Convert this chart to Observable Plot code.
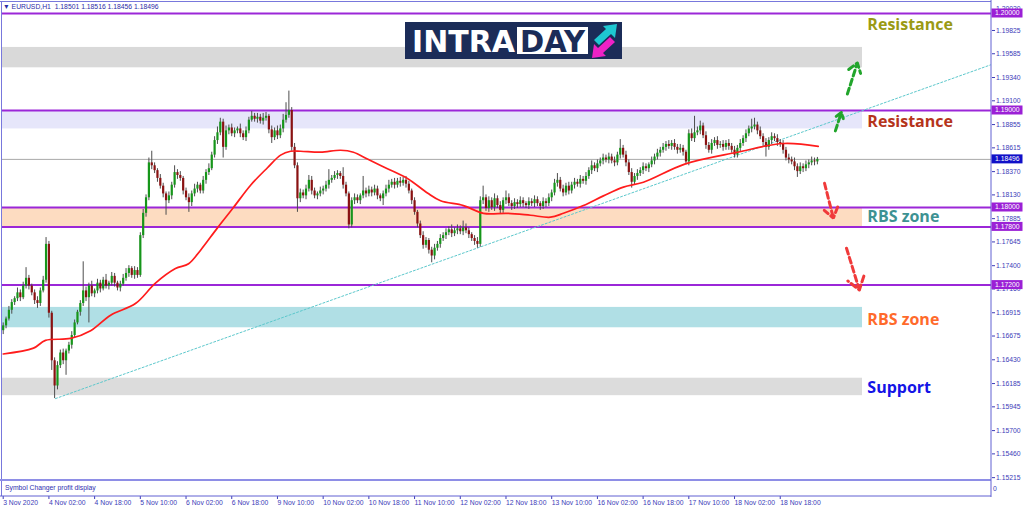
<!DOCTYPE html>
<html><head><meta charset="utf-8">
<script src="https://cdn.jsdelivr.net/npm/d3@7"></script>
<script src="https://cdn.jsdelivr.net/npm/@observablehq/plot@0.6"></script>
<style>
html,body{margin:0;padding:0;background:#fff;}
#wrap{position:relative;width:1024px;height:511px;overflow:hidden;background:#fff;}
#hdr{position:absolute;left:3px;top:3px;font:6.8px "Liberation Sans",sans-serif;color:#2b2ba6;white-space:pre;line-height:8px;}
#logo{position:absolute;left:405px;top:22px;}
</style></head><body>
<div id="wrap"><div id="chart"></div><div id="hdr"></div>
<svg id="logo" width="218" height="38" viewBox="405 22 218 38">
<rect x="405" y="22" width="217" height="37" fill="#1b2c58"/>
<text x="412" y="52" font-family="DejaVu Sans" font-weight="bold" font-size="31" fill="#fff" textLength="103" lengthAdjust="spacingAndGlyphs">INTRA</text>
<rect x="517" y="27" width="71" height="27" fill="#fff"/>
<text x="520" y="52" font-family="DejaVu Sans" font-weight="bold" font-size="31" fill="#1b2c58" textLength="65" lengthAdjust="spacingAndGlyphs">DAY</text>
<polygon fill="#1ec8d2" points="617,24 615,38 611,34 599,45 594,40 606,29 603,26"/>
<polygon fill="#ee22c6" points="592,58 594,44 598,48 610,37 615,42 603,53 606,56"/>
</svg>
</div>
<script>
// ---------------- data ----------------
const symbol = "EURUSD,H1";
const lastOHLC = [1.18501, 1.18516, 1.18456, 1.18496];
const lastPrice = 1.18496;
const pip = 0.0001;
const firstOpen = 1.1673;
const closes = [
1.1678,1.1685,1.1694,1.1702,1.1706,1.1712,1.1707,1.1719,1.1727,1.1719,
1.1712,1.1704,1.1701,1.1714,1.1725,1.1762,1.1691,1.1642,1.1616,1.1637,
1.1650,1.1642,1.1652,1.1658,1.1668,1.1681,1.1692,1.1701,1.1714,1.1707,
1.1719,1.1711,1.1714,1.1722,1.1716,1.1725,1.1719,1.1722,1.1729,1.1722,
1.1717,1.1721,1.1727,1.1732,1.1737,1.1730,1.1735,1.1730,1.1771,1.1794,
1.1810,1.1846,1.1843,1.1838,1.1830,1.1822,1.1814,1.1807,1.1812,1.1823,
1.1836,1.1833,1.1830,1.1817,1.1810,1.1805,1.1814,1.1819,1.1823,1.1817,
1.1828,1.1836,1.1840,1.1854,1.1869,1.1877,1.1888,1.1862,1.1879,1.1882,
1.1876,1.1879,1.1881,1.1876,1.1872,1.1879,1.1890,1.1894,1.1891,1.1893,
1.1889,1.1892,1.1894,1.1880,1.1872,1.1879,1.1874,1.1881,1.1890,1.1895,
1.1900,1.1862,1.1843,1.1809,1.1815,1.1812,1.1819,1.1828,1.1817,1.1812,
1.1814,1.1817,1.1819,1.1823,1.1828,1.1830,1.1833,1.1835,1.1832,1.1823,
1.1814,1.1782,1.1807,1.1810,1.1807,1.1812,1.1817,1.1814,1.1818,1.1815,
1.1819,1.1812,1.1809,1.1814,1.1819,1.1823,1.1826,1.1823,1.1827,1.1825,
1.1828,1.1824,1.1817,1.1807,1.1795,1.1783,1.1771,1.1761,1.1766,1.1756,
1.1750,1.1758,1.1762,1.1768,1.1771,1.1774,1.1777,1.1773,1.1776,1.1778,
1.1775,1.1779,1.1776,1.1772,1.1768,1.1765,1.1762,1.1807,1.1810,1.1799,
1.1807,1.1800,1.1809,1.1802,1.1797,1.1807,1.1810,1.1804,1.1801,1.1805,
1.1803,1.1807,1.1804,1.1802,1.1806,1.1804,1.1808,1.1804,1.1801,1.1806,
1.1804,1.1810,1.1815,1.1825,1.1828,1.1819,1.1815,1.1822,1.1817,1.1823,
1.1826,1.1824,1.1829,1.1827,1.1832,1.1838,1.1843,1.1840,1.1845,1.1848,
1.1851,1.1849,1.1852,1.1848,1.1846,1.1854,1.1861,1.1854,1.1846,1.1836,
1.1826,1.1832,1.1835,1.1838,1.1842,1.1840,1.1844,1.1848,1.1852,1.1856,
1.1859,1.1862,1.1865,1.1863,1.1866,1.1862,1.1859,1.1861,1.1857,1.1847,
1.1876,1.1871,1.1877,1.1879,1.1884,1.1874,1.1864,1.1859,1.1866,1.1869,
1.1864,1.1865,1.1862,1.1866,1.1863,1.1859,1.1854,1.1861,1.1866,1.1871,
1.1876,1.1881,1.1883,1.1885,1.1879,1.1873,1.1867,1.1862,1.1869,1.1873,
1.1871,1.1867,1.1865,1.1859,1.1851,1.1849,1.1847,1.1842,1.1837,1.1842,
1.1840,1.1844,1.1846,1.1848,1.1847,1.18496];
// upper / lower wicks beyond the body, in pips
const wickUp = [
3,2,4,3,2,5,3,4,11,3, 2,3,4,3,4,7,3,2,3,4, 3,4,2,3,4,3,2,3,30,4, 3,5,2,4,3,3,6,2,4,3,
2,3,4,5,3,2,4,3,3,4, 3,5,12,3,2,4,3,2,4,3, 7,3,4,2,3,4,3,5,3,2, 4,3,5,3,4,6,4,3,5,3,
4,3,2,5,3,4,3,5,3,4, 3,5,4,2,4,3,5,4,6,13, 20,3,4,3,4,3,4,5,4,3, 2,4,3,4,11,3,4,3,2,9,
3,2,3,4,3,2,15,3,4,3, 4,3,2,3,4,5,3,4,3,4, 3,4,3,2,3,2,3,4,3,2, 3,4,3,4,3,4,3,5,3,4,
3,7,4,3,2,3,4,4,12,3, 4,3,5,3,4,3,7,4,3,4, 3,4,3,2,4,3,4,3,2,4, 3,4,3,4,7,3,4,3,4,3,
4,3,4,3,4,3,5,3,4,3, 4,3,4,3,4,3,9,3,4,3, 4,3,4,3,4,3,2,4,3,4, 3,4,3,4,3,4,3,4,3,2,
4,5,17,4,5,3,4,3,4,3, 4,3,4,3,4,3,4,3,4,3, 4,3,8,7,3,4,3,4,3,4, 3,4,3,4,3,4,3,4,3,4,
3,4,3,4,3,2];
const wickDn = [
4,3,2,4,3,3,4,2,3,4, 3,4,5,3,2,3,5,10,13,4, 3,4,15,3,4,3,2,4,3,4, 26,3,4,3,4,2,3,4,3,4,
3,4,2,3,4,3,4,3,2,3, 4,3,4,3,4,3,4,15,3,4, 3,4,3,4,3,10,4,3,4,3, 3,4,3,2,3,4,3,11,3,4,
3,4,3,4,3,4,3,2,3,4, 3,4,3,4,6,3,4,3,4,3, 3,4,3,14,4,3,4,3,4,3, 4,3,4,3,4,3,2,4,3,4,
3,4,3,4,3,4,3,4,3,4, 3,4,3,7,3,4,3,4,3,4, 3,4,3,4,3,4,3,4,3,4, 7,4,3,4,3,4,3,4,3,4,
3,4,3,4,3,4,4,3,4,3, 4,3,4,3,4,3,4,3,4,3, 4,3,4,3,4,3,4,3,4,3, 4,3,4,3,4,3,4,3,4,3,
4,3,4,3,4,3,4,3,4,3, 4,3,4,3,4,3,4,3,4,3, 6,3,4,3,4,3,4,3,4,3, 4,3,4,3,4,3,4,3,4,3,
4,3,4,3,4,3,4,3,4,3, 4,3,4,3,4,3,3,3,4,3, 4,3,4,3,4,3,4,10,3,4, 3,4,3,4,3,4,3,4,6,3,
4,3,4,3,4,3];
// moving average
const maBars = [0,10.6,14.8,23.6,30.6,37.6,46.3,53.3,60.3,64.9,69.1,75,80.6,86.6,92.5,97.1,100.6,104.1,111.1,118.1,122.6,127.5,134.5,141.5,148.5,153.1,161.1,168.1,176.5,184.6,191.6,196.1,203.1,210.1,217.1,224.1,238.8,257,273.1,285.3];
const maValues = [1.1649,1.1655,1.1663,1.1665,1.1673,1.1689,1.1701,1.1722,1.1737,1.1742,1.1756,1.1779,1.1800,1.1823,1.1841,1.1854,1.1858,1.1858,1.1857,1.1859,1.1857,1.1850,1.1840,1.1830,1.1815,1.1807,1.1802,1.1794,1.1794,1.1792,1.1790,1.1794,1.1802,1.1812,1.1821,1.1826,1.1845,1.1857,1.1866,1.1863];
// horizontal levels and zones
const levels = [1.2000, 1.1900, 1.1800, 1.1780, 1.1720];
const zoneTop =    [1.1965, 1.1900, 1.1800, 1.1697, 1.1624];
const zoneBottom = [1.1944, 1.1881, 1.1780, 1.1676, 1.1606];
const zoneEndBar = 300.8;
// trend line
const trendBars = [18.3, 345.6];
const trendPrices = [1.1603, 1.1947];
// arrows
const arrowFromBar = [291.3, 295.5, 287.5, 295.2];
const arrowFromPrice = [1.1879, 1.1917, 1.1825, 1.1758];
const arrowToBar = [293.4, 299.0, 290.6, 299.7];
const arrowToPrice = [1.1898, 1.1949, 1.1789, 1.1715];
const arrowDir = ["up", "up", "down", "down"];
// zone labels
const labelText = ["Resistance", "Resistance", "RBS zone", "RBS zone", "Support"];
const labelPrice = [1.1988, 1.1888, 1.1790, 1.1684, 1.1614];
const labelBar = 302.5;
// axes
const xTickBars = [0,16,32,48,64,80,96,112,128,144,160,176,192,208,224,240,256,272];
const xTickLabels = ["3 Nov 2020","4 Nov 02:00","4 Nov 18:00","5 Nov 10:00","6 Nov 02:00","6 Nov 18:00","9 Nov 10:00","10 Nov 02:00","10 Nov 18:00","11 Nov 10:00","12 Nov 02:00","12 Nov 18:00","13 Nov 10:00","16 Nov 02:00","16 Nov 18:00","17 Nov 10:00","18 Nov 02:00","18 Nov 18:00"];
const yTickValues = [1.19825,1.19585,1.19340,1.19100,1.18855,1.18615,1.18370,1.18130,1.17885,1.17645,1.17400,1.17160,1.16915,1.16675,1.16430,1.16185,1.15945,1.15700,1.15460,1.15215];
const yTopLabel = "1.20020";

// ---------------- styles ----------------
const axisColor = "#3b3bb8";
const zoneColors = ["#d9d9d9", "#e6e6fa", "#fddcc1", "#b0dfe5", "#dcdcdc"];
const labelColors = ["#9a9a14", "#b5341b", "#3d9292", "#ff6a2b", "#1414e6"];
const arrowColors = {up: "#22a52c", down: "#f03a3a"};

// ---------------- build ----------------
document.getElementById("hdr").textContent = "\u25BC " + symbol + "  " + lastOHLC.map(v => v.toFixed(5)).join(" ");

const candles = closes.map((c, i) => {
  const o = i === 0 ? firstOpen : closes[i - 1];
  const top = Math.max(o, c), bot = Math.min(o, c);
  return {i, open: o, close: c, high: top + wickUp[i] * pip, low: bot - wickDn[i] * pip, up: c >= o};
});
const ma = maBars.map((b, k) => ({b, v: maValues[k]}));
const zones = zoneTop.map((t, k) => ({top: t, bottom: zoneBottom[k], fill: zoneColors[k]}));
const trend = trendBars.map((b, k) => ({b, v: trendPrices[k]}));
const arrows = arrowDir.map((d, k) => ({x1: arrowFromBar[k], y1: arrowFromPrice[k], x2: arrowToBar[k], y2: arrowToPrice[k], color: arrowColors[d]}));
const labels = labelText.map((t, k) => ({t, p: labelPrice[k], c: labelColors[k]}));
const xLabelOf = new Map(xTickBars.map((b, k) => [b, xTickLabels[k]]));
const xStart = -0.245;

const chart = Plot.plot({
  width: 1024, height: 511,
  marginLeft: 2, marginRight: 33, marginTop: 2, marginBottom: 15,
  x: {type: "linear", domain: [xStart, 345.6], range: [2, 990], label: null},
  y: {domain: [1.151959, 1.201134], range: [479, 2], label: null},
  color: {type: "identity"},
  style: {background: "#fff", fontFamily: "Liberation Sans, sans-serif", fontSize: "6.8px", color: axisColor, overflow: "visible"},
  marks: [
    Plot.rect(zones, {x1: () => xStart, x2: () => zoneEndBar, y1: "bottom", y2: "top", fill: "fill"}),
    Plot.ruleY([lastPrice], {stroke: "#a8a8a8", strokeWidth: 1}),
    Plot.ruleY(levels, {stroke: "#9b27d8", strokeWidth: 2}),
    Plot.line(trend, {x: "b", y: "v", stroke: "#5cc8cc", strokeWidth: 1, strokeDasharray: "2,2"}),
    Plot.ruleX(candles, {x: "i", y1: "low", y2: "high", stroke: "#4d4d4d", strokeWidth: 1}),
    Plot.ruleX(candles, {x: "i", y1: "open",
      y2: d => Math.abs(d.close - d.open) < 0.00004 ? d.open + (d.up ? 0.00004 : -0.00004) : d.close,
      stroke: d => d.up ? "#16961a" : "#8a1212", strokeWidth: 2.2}),
    Plot.line(ma, {x: "b", y: "v", stroke: "#ff1c1c", strokeWidth: 1.7, curve: "catmull-rom"}),
    Plot.arrow(arrows, {x1: "x1", y1: "y1", x2: "x2", y2: "y2", stroke: "color", strokeWidth: 3, strokeDasharray: "6,3.5", headLength: 9, headAngle: 70}),
    Plot.text(labels, {x: () => labelBar, y: "p", text: "t", fill: "c", textAnchor: "start", fontSize: 16, fontWeight: "bold", fontFamily: "Open Sans"}),
    Plot.axisY(yTickValues, {anchor: "right", tickSize: 3, tickPadding: 1.5, tickFormat: d => d.toFixed(5), fontSize: 6.8, color: axisColor}),
    Plot.text([yTopLabel], {frameAnchor: "top-right", dx: 4.5, dy: 4, textAnchor: "start", fill: axisColor, fontSize: 6.8}),
    Plot.axisX(xTickBars, {anchor: "bottom", tickSize: 3, tickPadding: 1, tickFormat: d => xLabelOf.get(d), textAnchor: "start", fontSize: 6.8, color: axisColor})
  ]
});
document.getElementById("chart").appendChild(chart);

// chart chrome: borders, sub-window, price boxes
const svg = d3.select(chart);
const ys = chart.scale("y");
const g = svg.append("g").attr("text-anchor", "start");
g.append("line").attr("x1", 0).attr("x2", 991).attr("y1", 1.5).attr("y2", 1.5).attr("stroke", "#7878dc");
g.append("line").attr("x1", 1.5).attr("x2", 1.5).attr("y1", 1).attr("y2", 496).attr("stroke", "#7878dc");
g.append("rect").attr("x", 2).attr("y", 479.5).attr("width", 989).attr("height", 16).attr("fill", "#fff");
g.append("line").attr("x1", 0).attr("x2", 991).attr("y1", 480).attr("y2", 480).attr("stroke", "#8e8ee6").attr("stroke-width", 2);
g.append("line").attr("x1", 0).attr("x2", 991).attr("y1", 496).attr("y2", 496).attr("stroke", "#6060d2");
g.append("line").attr("x1", 991).attr("x2", 991).attr("y1", 0).attr("y2", 497).attr("stroke", "#6060d2");
g.append("text").attr("x", 5).attr("y", 490).attr("fill", "#3030b0").attr("font-size", 6.8).text("Symbol Changer profit display");
g.append("text").attr("x", 993).attr("y", 491).attr("fill", axisColor).attr("font-size", 6.8).text("0");
function priceBox(v, fill) {
  const y = ys.apply(v);
  g.append("rect").attr("x", 991.5).attr("y", y - 4.5).attr("width", 31).attr("height", 9).attr("fill", fill);
  g.append("text").attr("x", 995).attr("y", y + 2.4).attr("fill", "#fff").attr("font-size", 6.8).text(v.toFixed(5));
}
levels.forEach(v => priceBox(v, "#9b20d6"));
priceBox(lastPrice, "#1010c8");
</script>
</body></html>
